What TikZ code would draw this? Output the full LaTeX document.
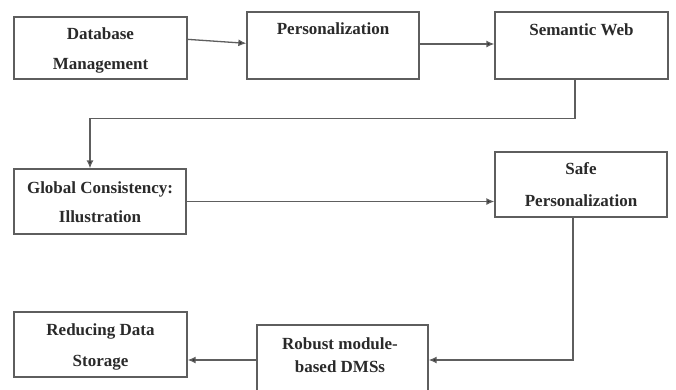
\documentclass[tikz,border=0pt]{standalone}
\usepackage{fontspec}
\setmainfont{Liberation Serif}
\usetikzlibrary{calc,arrows.meta}
\definecolor{linegray}{HTML}{5E5E5E}
\definecolor{txt}{HTML}{2A2A2A}
\begin{document}
\begin{tikzpicture}[x=1pt,y=-1pt,
  box/.style={draw=linegray,line width=1.3pt,rectangle,inner sep=0pt},
  lbl/.style={font=\fontsize{17}{20}\selectfont\bfseries,text=txt,inner sep=0pt,anchor=base},
  conn/.style={draw=linegray,line width=1.3pt},
  arr/.style={conn,-{Latex[length=8pt,width=7pt,fill=txt]}}]
\useasboundingbox[fill=white] (0,0) rectangle (676,389);
% boxes
\node[box,minimum width=173pt,minimum height=62pt] (db) at (100.5,48) {};
\node[box,minimum width=172pt,minimum height=67pt] (pers) at (333,45.5) {};
\node[box,minimum width=173pt,minimum height=67pt] (sw) at (581.5,45.5) {};
\node[box,minimum width=172pt,minimum height=65pt] (glob) at (100,201.5) {};
\node[box,minimum width=172pt,minimum height=65pt] (safe) at (581,184.5) {};
\node[box,minimum width=173pt,minimum height=65pt] (red) at (100.5,344.5) {};
\node[box,minimum width=171pt,minimum height=70pt] (rob) at (342.5,360) {};
% labels
\node[lbl] (t1a) at (100.5,39) {Database};
\node[lbl] (t1b) at (100.5,69) {Management};
\node[lbl] (t2) at (333,34) {Personalization};
\node[lbl] (t3) at (581.5,35) {Semantic Web};
\node[lbl] (t4a) at (100,193) {Global Consistency:};
\node[lbl] (t4b) at (100,222) {Illustration};
\node[lbl] (t5a) at (581,174) {Safe};
\node[lbl] (t5b) at (581,206) {Personalization};
\node[lbl] (t6a) at (100.5,335) {Reducing Data};
\node[lbl] (t6b) at (100.5,366) {Storage};
\node[lbl] (t7a) at (340,349) {Robust module-};
\node[lbl] (t7b) at (340,372) {based DMSs};
% connectors
\draw[arr] ($(db.north east)+(0,23)$) -- ($(pers.north west)+(0,32)$);
\draw[arr] ($(pers.east)+(0,-1.5)$) -- ($(sw.west)+(0,-1.5)$);
\draw[arr] ($(sw.south)+(-6.5,0)$) -- ++(0,39) -| ($(glob.north)+(-10,0)$);
\draw[arr] (glob.east) -- (glob.east -| safe.west);
\draw[arr] ($(safe.south)+(-8,0)$) |- (rob.east);
\draw[arr] (rob.west) -- (rob.west -| red.east);
\end{tikzpicture}
\end{document}
